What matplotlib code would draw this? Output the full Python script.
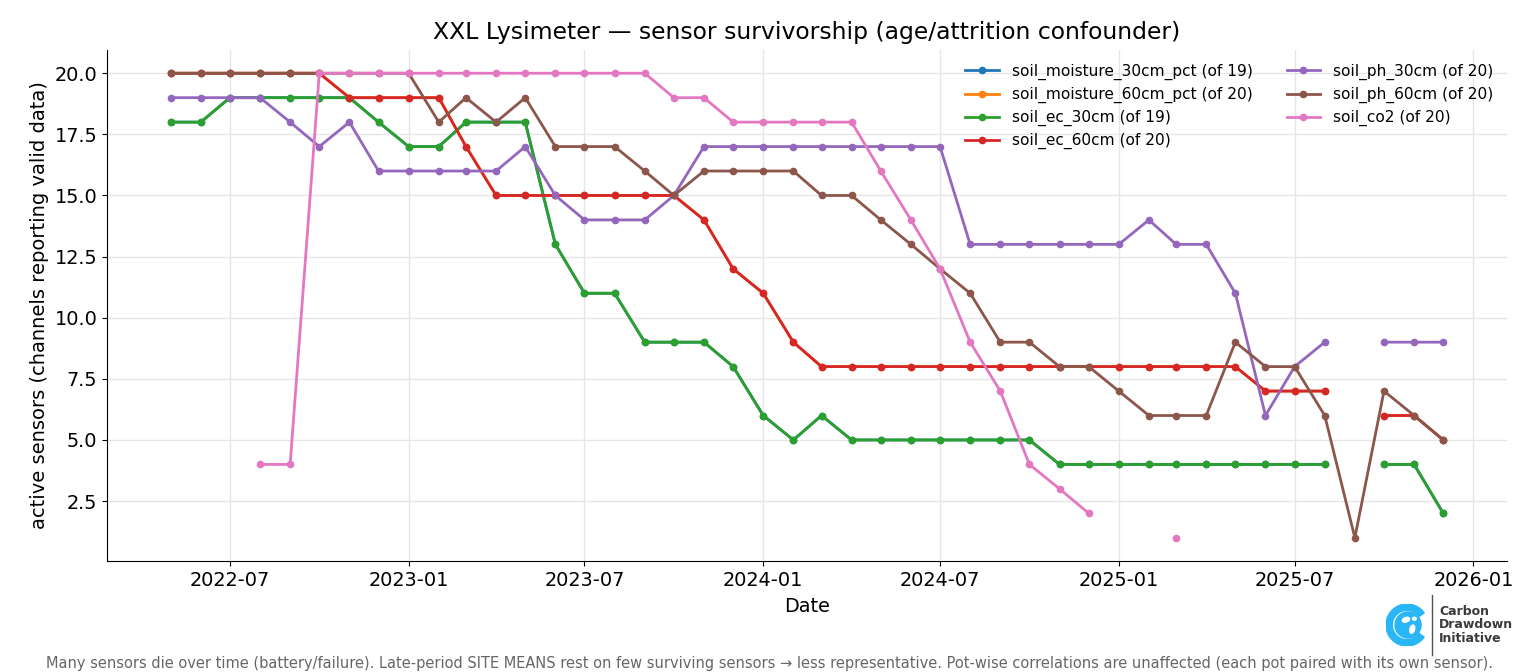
import numpy as np
import pandas as pd
import matplotlib
matplotlib.use("Agg")
import matplotlib.pyplot as plt
import matplotlib.dates as mdates
from matplotlib.patches import Circle, Wedge, Ellipse

nan = np.nan

# Monthly sensor counts, May 2022 .. Dec 2025
months = pd.date_range("2022-05-01", "2025-12-01", freq="MS")

soil_moisture_30cm_pct = [18, 18, 19, 19, 19, 19, 19, 18, 17, 17,
                          18, 18, 18, 13, 11, 11, 9, 9, 9, 8,
                          6, 5, 6, 5, 5, 5, 5, 5, 5, 5,
                          4, 4, 4, 4, 4, 4, 4, 4, 4, 4,
                          nan, 4, 4, 2]
soil_moisture_60cm_pct = [20, 20, 20, 20, 20, 20, 19, 19, 19, 19,
                          17, 15, 15, 15, 15, 15, 15, 15, 14, 12,
                          11, 9, 8, 8, 8, 8, 8, 8, 8, 8,
                          8, 8, 8, 8, 8, 8, 8, 7, 7, 7,
                          nan, 6, 6, 5]
soil_ec_30cm = [18, 18, 19, 19, 19, 19, 19, 18, 17, 17,
                18, 18, 18, 13, 11, 11, 9, 9, 9, 8,
                6, 5, 6, 5, 5, 5, 5, 5, 5, 5,
                4, 4, 4, 4, 4, 4, 4, 4, 4, 4,
                nan, 4, 4, 2]
soil_ec_60cm = [20, 20, 20, 20, 20, 20, 19, 19, 19, 19,
                17, 15, 15, 15, 15, 15, 15, 15, 14, 12,
                11, 9, 8, 8, 8, 8, 8, 8, 8, 8,
                8, 8, 8, 8, 8, 8, 8, 7, 7, 7,
                nan, 6, 6, 5]
soil_ph_30cm = [19, 19, 19, 19, 18, 17, 18, 16, 16, 16,
                16, 16, 17, 15, 14, 14, 14, 15, 17, 17,
                17, 17, 17, 17, 17, 17, 17, 13, 13, 13,
                13, 13, 13, 14, 13, 13, 11, 6, 8, 9,
                nan, 9, 9, 9]
soil_ph_60cm = [20, 20, 20, 20, 20, 20, 20, 20, 20, 18,
                19, 18, 19, 17, 17, 17, 16, 15, 16, 16,
                16, 16, 15, 15, 14, 13, 12, 11, 9, 9,
                8, 8, 7, 6, 6, 6, 9, 8, 8, 6,
                1, 7, 6, 5]
soil_co2 = [nan, nan, nan, 4, 4, 20, 20, 20, 20, 20,
            20, 20, 20, 20, 20, 20, 20, 19, 19, 18,
            18, 18, 18, 18, 16, 14, 12, 9, 7, 4,
            3, 2, nan, nan, 1, nan, nan, nan, nan, nan,
            nan, nan, nan, nan]

series = [
    ("soil_moisture_30cm_pct (of 19)", soil_moisture_30cm_pct),
    ("soil_moisture_60cm_pct (of 20)", soil_moisture_60cm_pct),
    ("soil_ec_30cm (of 19)", soil_ec_30cm),
    ("soil_ec_60cm (of 20)", soil_ec_60cm),
    ("soil_ph_30cm (of 20)", soil_ph_30cm),
    ("soil_ph_60cm (of 20)", soil_ph_60cm),
    ("soil_co2 (of 20)", soil_co2),
]

fig = plt.figure(figsize=(15.4, 6.72), dpi=100)
ax = fig.add_axes([0.0695, 0.1652, 0.909, 0.7604])

for label, vals in series:
    ax.plot(months, vals, marker="o", markersize=4.5, linewidth=2, label=label)

ax.set_title("XXL Lysimeter \u2014 sensor survivorship (age/attrition confounder)",
             fontsize=16.9, pad=8)
ax.set_xlabel("Date", fontsize=13.9, labelpad=5)
ax.set_ylabel("active sensors (channels reporting valid data)", fontsize=14)
ax.tick_params(labelsize=13.9)
ax.xaxis.set_major_locator(mdates.MonthLocator(bymonth=[1, 7]))
ax.xaxis.set_major_formatter(mdates.DateFormatter("%Y-%m"))
ax.grid(True, color="#e6e6e6", linewidth=1)
ax.set_axisbelow(True)
for s in ["top", "right"]:
    ax.spines[s].set_visible(False)

ax.legend(ncol=2, loc="upper right", frameon=False, fontsize=11.1,
          columnspacing=2.2, handlelength=2.2, labelspacing=0.45)

fig.text(0.5, 0.013,
         "Many sensors die over time (battery/failure). Late-period SITE MEANS rest on few "
         "surviving sensors \u2192 less representative. Pot-wise correlations are unaffected "
         "(each pot paired with its own sensor).",
         ha="center", va="center", fontsize=10.5, color="#666666")

# logo
lax = fig.add_axes([1386 / 1540, 1 - 646 / 672, 42 / 1540, 42 / 672])
lax.set_xlim(-1, 1)
lax.set_ylim(-1, 1)
lax.set_aspect("equal")
lax.axis("off")
blue = "#29b6f6"
lax.add_patch(Wedge((0, 0), 1, 35, 325, width=0.3, color=blue))
lax.add_patch(Circle((0.05, 0), 0.62, color=blue))
lax.add_patch(Ellipse((-0.05, 0.25), 0.35, 0.22, angle=20, color="white"))
lax.add_patch(Ellipse((0.25, -0.2), 0.22, 0.4, angle=-15, color="white"))
lax.add_patch(Ellipse((0.35, 0.3), 0.18, 0.14, color="white"))
fig.add_artist(plt.Line2D([1432 / 1540, 1432 / 1540], [1 - 655 / 672, 1 - 595 / 672],
                          color="#555555", linewidth=1))
fig.text(1439 / 1540, 1 - 625 / 672, "Carbon\nDrawdown\nInitiative",
         ha="left", va="center", fontsize=9, fontweight="bold",
         color="#3a3a3a", linespacing=1.05)

fig.savefig("out.png", dpi=100)
